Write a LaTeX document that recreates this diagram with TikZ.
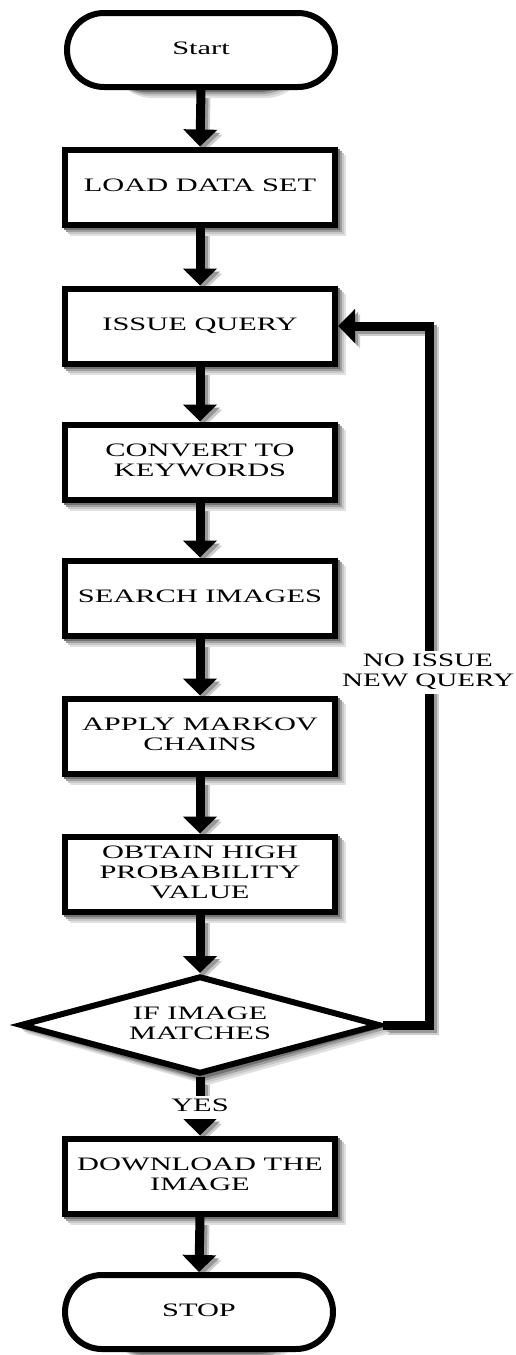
\documentclass[tikz,border=0pt]{standalone}
\usepackage{fontspec}
\setmainfont{Liberation Serif}
\usepackage{graphicx}
\usetikzlibrary{shapes.geometric,shapes.misc,arrows.meta}

\newcommand{\lbl}[2][1.6]{\scalebox{#1}[1]{\begin{tabular}{@{}c@{}}#2\end{tabular}}}
\newcommand{\rectsh}[1]{\foreach \k/\c in {8/12,6/22,4/38,2/55}
  \fill[black!\c] ([shift={(\k,\k)}]#1.north west) rectangle ([shift={(\k,\k)}]#1.south east);}
\newcommand{\termsh}[1]{\foreach \k/\c in {8/12,6/22,4/38,2/55}
  \fill[black!\c, rounded corners=40pt] ([shift={(\k,\k)}]#1.north west) rectangle ([shift={(\k,\k)}]#1.south east);}
\newcommand{\decsh}[1]{\foreach \k/\c in {8/12,6/22,4/38,2/55}
  \fill[black!\c] ([shift={(\k,\k)}]#1.north) -- ([shift={(\k,\k)}]#1.east) -- ([shift={(\k,\k)}]#1.south) -- ([shift={(\k,\k)}]#1.west) -- cycle;}
\pgfdeclarelayer{bg}
\pgfsetlayers{bg,main}

\begin{document}
\begin{tikzpicture}[x=1pt,y=-1pt,
  every node/.style={font=\fontsize{19}{20}\selectfont, inner sep=0pt},
  box/.style={draw, line width=6pt, fill=white, minimum width=270pt, minimum height=75pt},
  term/.style={box, rounded rectangle, minimum width=268pt, minimum height=74pt},
  dec/.style={box, diamond, shape aspect=3.5, minimum width=360pt, minimum height=98pt},
  arr/.style={line width=9pt, line join=miter, -{Triangle[width=33pt,length=17pt]}},
  lab/.style={fill=white, inner sep=1.5pt},
]
\useasboundingbox (0,0) rectangle (516,1355);

\node[term] (s)  at (201,50)   {\lbl{Start}};
\node[box]  (ld) at (200,187)  {\lbl{LOAD DATA SET}};
\node[box]  (iq) at (200,326)  {\lbl{ISSUE QUERY}};
\node[box]  (cv) at (200,462)  {\lbl{CONVERT TO\\KEYWORDS}};
\node[box]  (si) at (200,598)  {\lbl{SEARCH IMAGES}};
\node[box]  (am) at (200,736)  {\lbl{APPLY MARKOV\\CHAINS}};
\node[box]  (ob) at (200,874)  {\lbl{OBTAIN HIGH\\PROBABILITY\\VALUE}};
\node[dec]  (d)  at (200,1025) {\lbl{IF IMAGE\\MATCHES}};
\node[box]  (dl) at (200,1176) {\lbl{DOWNLOAD THE\\IMAGE}};
\node[term] (st) at (199,1312) {\lbl{STOP}};

\coordinate (lp) at (429,326);

\begin{pgfonlayer}{bg}
\foreach \a/\b in {s/ld, ld/iq, iq/cv, cv/si, si/am, am/ob, ob/d, d/dl, dl/st}
  \foreach \k/\c in {5/20,3/40}
    \draw[arr, draw=black!\c] ([shift={(\k,\k)}]\a.south) -- ([shift={(\k,\k)}]\b.north);
\foreach \k/\c in {5/20,3/40}
  \draw[arr, draw=black!\c] ([shift={(\k,\k)}]d.east) -| ([shift={(\k,\k)}]lp) -- ([shift={(\k,\k)}]iq.east);
\termsh{s}
\rectsh{ld}\rectsh{iq}\rectsh{cv}\rectsh{si}\rectsh{am}\rectsh{ob}\rectsh{dl}
\decsh{d}
\termsh{st}
\end{pgfonlayer}

\foreach \a/\b in {s/ld, ld/iq, iq/cv, cv/si, si/am, am/ob, ob/d, d/dl, dl/st}
  \draw[arr] (\a.south) -- (\b.north);
\draw[arr] (d.east) -| (lp) -- (iq.east);

\node[lab] (yes) at (200,1107) {\lbl{YES}};
\node[lab] (nl)  at (428,672)  {\lbl[1.53]{NO ISSUE\\NEW QUERY}};
\end{tikzpicture}
\end{document}
